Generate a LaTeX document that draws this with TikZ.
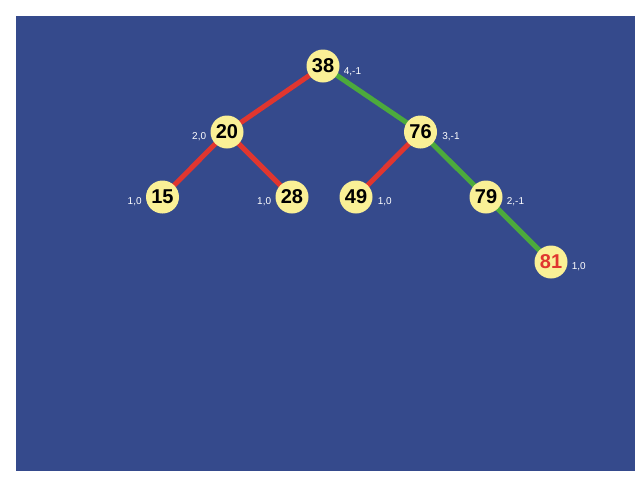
\documentclass[tikz,border=0pt]{standalone}
\usepackage{fontspec}
\setmainfont{Liberation Sans}
\usetikzlibrary{positioning,backgrounds}
\definecolor{Navy}{HTML}{354A8C}
\definecolor{Pale}{HTML}{FAF096}
\definecolor{Red}{HTML}{E0362F}
\definecolor{Green}{HTML}{4CAA3C}

\begin{document}
\begin{tikzpicture}[x=1pt, y=-1pt,
  every node/.style={font=\fontsize{10}{12}\selectfont},
  key/.style={circle, fill=Pale, minimum size=33pt, inner sep=0pt, on grid, font=\fontsize{20}{24}\selectfont\bfseries},
  lbl/.style={text=white, inner sep=0pt},
  redge/.style={line width=5pt, color=Red},
  gedge/.style={line width=5pt, color=Green}]
\useasboundingbox (0,0) rectangle (640,480);
\node[key] (n38) at (323,66) {38};
\node[key, below left=66pt and 96pt of n38] (n20) {20};
\node[key, below right=66pt and 97.5pt of n38] (n76) {76};
\node[key, below left=65pt and 64.5pt of n20] (n15) {15};
\node[key, below right=65pt and 65pt of n20] (n28) {28};
\node[key, below left=65pt and 64.5pt of n76] (n49) {49};
\node[key, below right=65pt and 65.5pt of n76] (n79) {79};
\node[key, below right=65pt and 65pt of n79, text=Red] (n81) {81};
% balance labels
\node[lbl, right=4pt of n38.east, yshift=-6pt] (l38) {4,-1};
\node[lbl, left=4pt of n20.west, yshift=-5pt] (l20) {2,0};
\node[lbl, right=5pt of n76.east, yshift=-5pt] (l76) {3,-1};
\node[lbl, left=4pt of n15.west, yshift=-5pt] (l15) {1,0};
\node[lbl, left=4pt of n28.west, yshift=-5pt] (l28) {1,0};
\node[lbl, right=5pt of n49.east, yshift=-5pt] (l49) {1,0};
\node[lbl, right=4pt of n79.east, yshift=-5pt] (l79) {2,-1};
\node[lbl, right=4pt of n81.east, yshift=-5pt] (l81) {1,0};
\begin{scope}[on background layer]
\fill[white] (0,0) rectangle (640,480);
\fill[Navy] (16,16) rectangle (635,471);
\draw[redge] (n38.center) -- (n20.center);
\draw[redge] (n20.center) -- (n15.center);
\draw[redge] (n20.center) -- (n28.center);
\draw[redge] (n76.center) -- (n49.center);
\draw[gedge] (n38.center) -- (n76.center);
\draw[gedge] (n76.center) -- (n79.center);
\draw[gedge] (n79.center) -- (n81.center);
\end{scope}
\end{tikzpicture}
\end{document}
